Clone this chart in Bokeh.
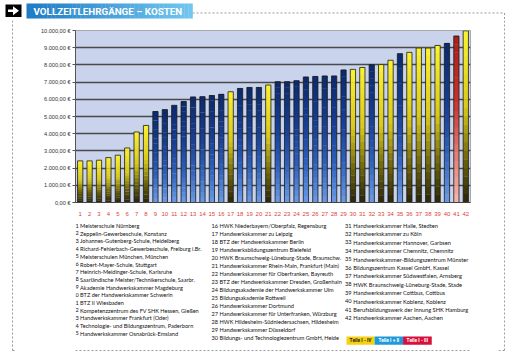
from bokeh.plotting import figure
from bokeh.models import Range1d, FixedTicker
from bokeh.layouts import column, row
from bokeh.core.properties import value
from bokeh.embed import file_html
from bokeh.resources import INLINE

# ---------------- data ----------------
categories = list(range(1, 43))
costs = [2420, 2420, 2460, 2610, 2750, 3170, 4100, 4480, 5290, 5400,
         5650, 5870, 6130, 6150, 6220, 6290, 6440, 6630, 6690, 6690,
         6830, 7020, 7020, 7080, 7290, 7330, 7350, 7350, 7700, 7740,
         7850, 8000, 8020, 8270, 8650, 8730, 8980, 8980, 9130, 9250,
         9670, 9980]
# Y = Teile I - IV, B = Teile I + II, R = Teile I - III
course_type = ["Y"] * 8 + ["B"] * 8 + ["Y"] + ["B"] * 3 + ["Y"] + ["B"] * 8 + \
              ["Y", "Y", "B", "Y", "Y", "B", "Y", "Y", "Y", "Y", "B", "R", "Y"]
y_ticks = [0, 1000, 2000, 3000, 4000, 5000, 6000, 7000, 8000, 9000, 10000]
y_tick_labels = ["0,00 €", "1.000,00 €", "2.000,00 €", "3.000,00 €", "4.000,00 €",
                 "5.000,00 €", "6.000,00 €", "7.000,00 €", "8.000,00 €",
                 "9.000,00 €", "10.000,00 €"]
names = [
    "Meisterschule Nürnberg",
    "Zeppelin-Gewerbeschule, Konstanz",
    "Johannes-Gutenberg-Schule, Heidelberg",
    "Richard-Fehlerbach-Gewerbeschule, Freiburg i.Br.",
    "Meisterschulen München, München",
    "Robert-Mayer-Schule, Stuttgart",
    "Heinrich-Meidinger-Schule, Karlsruhe",
    "Saarländische Meister/Technikerschule, Saarbr.",
    "Akademie Handwerkskammer Magdeburg",
    "BTZ der Handwerkskammer Schwerin",
    "BTZ II Wiesbaden",
    "Kompetenzzentrum des FV SHK Hessen, Gießen",
    "Handwerkskammer Frankfurt (Oder)",
    "Technologie- und Bildungszentrum, Paderborn",
    "Handwerkskammer Osnabrück-Emsland",
    "HWK Niederbayern/Oberpfalz, Regensburg",
    "Handwerkskammer zu Leipzig",
    "BTZ der Handwerkskammer Berlin",
    "Handwerksbildungszentrum Bielefeld",
    "HWK Braunschweig-Lüneburg-Stade, Braunschw.",
    "Handwerkskammer Rhein-Main, Frankfurt (Main)",
    "Handwerkskammer für Oberfranken, Bayreuth",
    "BTZ der Handwerkskammer Dresden, Großenhain",
    "Bildungsakademie der Handwerkskammer Ulm",
    "Bildungsakademie Rottweil",
    "Handwerkskammer Dortmund",
    "Handwerkskammer für Unterfranken, Würzburg",
    "HWK Hildesheim-Südniedersachsen, Hildesheim",
    "Handwerkskammer Düsseldorf",
    "Bildungs- und Technologiezentrum GmbH, Heide",
    "Handwerkskammer Halle, Stedten",
    "Handwerkskammer zu Köln",
    "Handwerkskammer Hannover, Garbsen",
    "Handwerkskammer Chemnitz, Chemnitz",
    "Handwerkskammer-Bildungszentrum Münster",
    "Bildungszentrum Kassel GmbH, Kassel",
    "Handwerkskammer Südwestfalen, Arnsberg",
    "HWK Braunschweig-Lüneburg-Stade, Stade",
    "Handwerkskammer Cottbus, Cottbus",
    "Handwerkskammer Koblenz, Koblenz",
    "Berufsbildungswerk der Innung SHK Hamburg",
    "Handwerkskammer Aachen, Aachen",
]
legend_labels = ["Teile I - IV", "Teile I + II", "Teile I - III"]
title_text = "VOLLZEITLEHRGÄNGE – KOSTEN"

# ---------------- helpers ----------------
def hex2rgb(h):
    h = h.lstrip("#")
    return tuple(int(h[i:i + 2], 16) for i in (0, 2, 4))

def rgb2hex(c):
    return "#%02x%02x%02x" % tuple(max(0, min(255, int(round(v)))) for v in c)

def grad(stops, t):
    for (t0, c0), (t1, c1) in zip(stops[:-1], stops[1:]):
        if t0 <= t <= t1:
            f = (t - t0) / (t1 - t0) if t1 > t0 else 0
            a, b = hex2rgb(c0), hex2rgb(c1)
            return rgb2hex([a[i] + (b[i] - a[i]) * f for i in range(3)])
    return stops[-1][1]

STOPS = {
    "Y": [(0.0, "#28240a"), (0.25, "#6e640a"), (0.55, "#d8c818"), (1.0, "#fbf230")],
    "B": [(0.0, "#6a9be6"), (0.3, "#2f62bb"), (0.6, "#173f95"), (1.0, "#0b2a6b")],
    "R": [(0.0, "#f4b8b0"), (0.3, "#e07a70"), (0.6, "#c6342c"), (1.0, "#a8201c")],
}
DASH = dict(line_color="#9a9a9a", line_width=1, line_dash="2 2")

def blank(w, h):
    f = figure(width=w, height=h, x_range=Range1d(0, w), y_range=Range1d(h, 0),
               output_backend="svg", toolbar_location=None, min_border=0, title=None,
               x_axis_type=None, y_axis_type=None, outline_line_color=None)
    f.grid.visible = False
    return f

# ---------------- header (page y 0..20) ----------------
hdr = blank(506, 20)
hdr.quad(left=5, right=21, top=4, bottom=16.5, fill_color="black", line_color=None)
hdr.patch([7.5, 12.5, 12.5, 18.5, 12.5, 12.5, 7.5], [9.0, 9.0, 5.8, 10.3, 14.8, 11.6, 11.6],
          fill_color="white", line_color=None)
NB = 40
bx0, bx1 = 26, 192
for k in range(NB):
    l = bx0 + (bx1 - bx0) * k / NB
    r = bx0 + (bx1 - bx0) * (k + 1) / NB
    hdr.quad(left=l, right=r + 0.3, top=3, bottom=18,
             fill_color=grad([(0, "#1f7cc4"), (1, "#71c6f0")], k / (NB - 1)), line_color=None)
hdr.text(x=[33], y=[10.8], text=[title_text], text_font=value("Roboto"), text_font_style="bold",
         text_font_size="9.8px", text_color="white", text_baseline="middle")
hdr.line([192, 504], [12.5, 12.5], **DASH)
hdr.line([504, 504], [12.5, 20], **DASH)

# ---------------- chart (page x 16..498, y 20..218) ----------------
p = figure(width=482, height=198, x_range=Range1d(0.5, 42.5), y_range=Range1d(0, 10000),
           output_backend="svg", toolbar_location=None, title=None,
           min_border_left=59, min_border_right=28, min_border_top=10, min_border_bottom=14)
p.background_fill_color = "#c9d4ec"
p.outline_line_color = "#a8a8a8"
p.xgrid.visible = False
p.ygrid.ticker = FixedTicker(ticks=y_ticks[1:-1])
p.ygrid.grid_line_color = "#4a4a4a"
p.ygrid.grid_line_width = 1.3

K = 20
BW = 0.56
xs, bots, tops, cols = [], [], [], []
for c, v, t in zip(categories, costs, course_type):
    for k in range(K):
        xs.append(c)
        bots.append(v * k / K)
        tops.append(v * (k + 1) / K + v * 0.002)
        cols.append(grad(STOPS[t], (k + 0.5) / K))
p.vbar(x=xs, bottom=bots, top=tops, width=BW, fill_color=cols, line_color=None)
p.vbar(x=categories, top=costs, width=BW, fill_color=None, line_color="#1a1a1a", line_width=0.8)

p.yaxis.ticker = FixedTicker(ticks=y_ticks)
p.yaxis.major_label_overrides = dict(zip(y_ticks, y_tick_labels))
p.yaxis.major_label_text_font = "Liberation Sans"
p.yaxis.major_label_text_font_size = "5.6px"
p.yaxis.major_label_text_color = "#333333"
p.yaxis.axis_line_color = "#555555"
p.yaxis.major_tick_line_color = "#555555"
p.yaxis.major_tick_out = 3
p.yaxis.major_tick_in = 0
p.yaxis.minor_tick_line_color = None
p.yaxis.major_label_standoff = 2

p.xaxis.ticker = FixedTicker(ticks=categories)
p.xaxis.major_label_text_font = "Liberation Sans"
p.xaxis.major_label_text_font_size = "6px"
p.xaxis.major_label_text_color = "#e2403a"
p.xaxis.axis_line_color = "#444444"
p.xaxis.major_tick_line_color = None
p.xaxis.minor_tick_line_color = None
p.xaxis.major_label_standoff = 3

# ---------------- list (page x 16..498, y 218..358) ----------------
lst = blank(482, 140)
col_defs = [(0, 15, 4.0, 5.6, 7.7, "5.6px"), (15, 30, 174.0, 175.8, 8.02, "5.6px"),
            (30, 42, 337.0, 339.0, 8.4, "5.7px")]
for a, b, xn, xt, step, fs in col_defs:
    ys = [7 + step * i for i in range(b - a)]
    lst.text(x=[xn] * (b - a), y=ys, text=[str(n) for n in categories[a:b]],
             text_font=value("Lato"), text_font_size=fs, text_color="#111111",
             text_align="right", text_baseline="middle")
    lst.text(x=[xt] * (b - a), y=ys, text=names[a:b],
             text_font=value("Lato"), text_font_size=fs, text_color="#111111",
             text_align="left", text_baseline="middle")

leg_x = [330.7, 365.0, 399.7, 434.7]
leg_fill = ["#f5d10f", "#1e9ad9", "#d6103b"]
leg_txt = ["#222222", "white", "white"]
lst.quad(left=leg_x[:-1], right=leg_x[1:], top=[118] * 3, bottom=[126.3] * 3,
         fill_color=leg_fill, line_color=None)
lst.text(x=[(leg_x[i] + leg_x[i + 1]) / 2 for i in range(3)], y=[122.3] * 3, text=legend_labels,
         text_font=value("Roboto"), text_font_style="bold", text_font_size="4.8px",
         text_color=leg_txt, text_align="center", text_baseline="middle")
lst.line([0, 482], [132, 132], **DASH)

# ---------------- side strips (page y 20..358) ----------------
left = blank(16, 338)
left.line([12, 12], [0, 330], **DASH)
left.line([12, 16], [330, 330], **DASH)
right = blank(8, 338)
right.line([6, 6], [0, 330], **DASH)
right.line([0, 6], [330, 330], **DASH)

layout = column(hdr, row(left, column(p, lst), right))
open("out.html", "w").write(file_html(layout, INLINE))
